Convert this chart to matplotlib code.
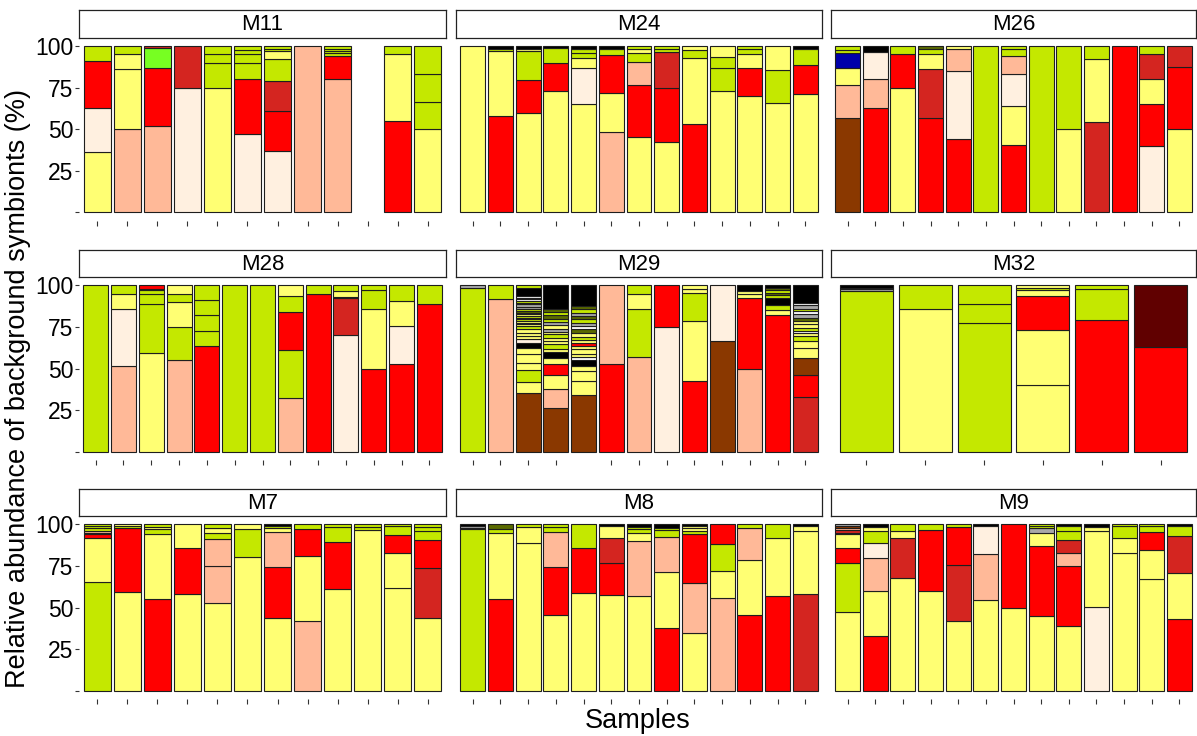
import matplotlib
matplotlib.use("Agg")
import matplotlib.pyplot as plt

plt.rcParams['font.family'] = ['Liberation Sans', 'DejaVu Sans']

# ---- colour codes -------------------------------------------------------
PAL = {
    "Y": "#FFFF73",  # pale yellow
    "G": "#C4E800",  # yellow-green
    "R": "#FF0000",  # red
    "D": "#D42520",  # dark red
    "S": "#FFB998",  # salmon
    "C": "#FFF0E0",  # cream
    "B": "#8A3800",  # brown
    "K": "#000000",  # black
    "U": "#0000AA",  # blue
    "L": "#77FF22",  # light green
    "M": "#600000",  # maroon
    "A": "#A8A8A8",  # gray
    "O": "#5A6A00",  # dark olive
    "W": "#FFFFFF",  # white
}

# ---- data: each bar = list of (colour code, % value) from bottom to top --
M11 = [
    [("Y", 36), ("C", 27), ("R", 28), ("G", 9)],
    [("S", 50), ("Y", 36), ("Y", 9), ("G", 5)],
    [("S", 52), ("R", 35), ("L", 12), ("D", 1)],
    [("C", 75), ("D", 25)],
    [("Y", 75), ("G", 15), ("G", 5), ("G", 5)],
    [("C", 47), ("R", 33), ("G", 10), ("G", 5), ("G", 2.5), ("G", 2.5)],
    [("C", 37), ("R", 24), ("D", 18), ("G", 13), ("Y", 5), ("G", 1.5), ("G", 1.5)],
    [("S", 100)],
    [("S", 80), ("R", 14), ("G", 1.5), ("G", 1.5), ("G", 1), ("G", 2)],
    [],
    [("R", 55), ("Y", 40), ("G", 5)],
    [("Y", 50), ("G", 16.5), ("G", 16.5), ("G", 17)],
]

M24 = [
    [("Y", 100)],
    [("R", 58), ("Y", 39), ("G", 1.5), ("K", 1.5)],
    [("Y", 60), ("R", 19.5), ("G", 17.5), ("Y", 1.5), ("K", 1.5)],
    [("Y", 73), ("R", 17), ("G", 9), ("K", 1)],
    [("Y", 65), ("C", 21.5), ("Y", 6.5), ("G", 3), ("G", 2.5), ("K", 1.5)],
    [("S", 48), ("Y", 24), ("R", 22.5), ("G", 3.5), ("K", 2)],
    [("Y", 45), ("R", 31.5), ("S", 14), ("G", 5), ("Y", 2.5), ("G", 2)],
    [("Y", 42), ("R", 33), ("D", 21.5), ("G", 2), ("G", 1.5)],
    [("R", 53), ("Y", 39.5), ("G", 5), ("Y", 2.5)],
    [("Y", 73), ("G", 13.5), ("G", 7), ("Y", 6.5)],
    [("Y", 70), ("R", 16.5), ("Y", 8.5), ("G", 3), ("G", 2)],
    [("Y", 65.5), ("G", 20), ("Y", 14.5)],
    [("Y", 71), ("R", 17.5), ("G", 9.5), ("K", 2)],
]

M26 = [
    [("B", 57), ("S", 19.5), ("Y", 10.5), ("U", 8.5), ("G", 2), ("G", 2.5)],
    [("R", 62.5), ("S", 17.5), ("C", 16.5), ("K", 3.5)],
    [("Y", 75), ("R", 20), ("G", 5)],
    [("R", 57), ("D", 29), ("Y", 9), ("G", 3), ("O", 2)],
    [("R", 44), ("C", 41), ("S", 13), ("Y", 2)],
    [("G", 100)],
    [("R", 40.5), ("Y", 23.5), ("C", 19), ("S", 11), ("G", 4), ("G", 2)],
    [("G", 100)],
    [("Y", 50), ("G", 50)],
    [("D", 54), ("Y", 38), ("G", 8)],
    [("R", 100)],
    [("C", 40), ("R", 25), ("Y", 15), ("D", 15), ("G", 5)],
    [("Y", 50), ("R", 37.5), ("D", 12.5)],
]

M28 = [
    [("G", 100)],
    [("S", 51.5), ("C", 34), ("Y", 9.5), ("G", 5)],
    [("Y", 59.5), ("G", 29.5), ("G", 5.5), ("G", 2.5), ("G", 1), ("R", 2)],
    [("S", 55), ("G", 20), ("Y", 15), ("G", 5), ("Y", 5)],
    [("R", 63.5), ("G", 9), ("G", 9.5), ("G", 9), ("G", 9)],
    [("G", 100)],
    [("G", 100)],
    [("S", 32), ("G", 29), ("R", 23), ("G", 9.5), ("Y", 6.5)],
    [("R", 94.5), ("G", 5.5)],
    [("C", 70), ("D", 22.5), ("K", 0.5), ("Y", 3.5), ("G", 3.5)],
    [("R", 50), ("Y", 35.5), ("G", 11.5), ("G", 3)],
    [("R", 53), ("C", 22.5), ("Y", 15), ("G", 9.5)],
    [("R", 89), ("G", 11)],
]

M29 = [
    [("G", 98.5), ("A", 1.5)],
    [("S", 91.5), ("G", 8.5)],
    [("B", 35), ("Y", 7), ("G", 7), ("Y", 4.5), ("Y", 5), ("Y", 4), ("K", 3),
     ("C", 2), ("Y", 2), ("Y", 2), ("Y", 2), ("G", 2), ("Y", 1), ("G", 1),
     ("Y", 1), ("G", 1), ("Y", 1), ("G", 1), ("Y", 1), ("G", 1), ("O", 1),
     ("G", 1), ("A", 1.5), ("A", 1.5), ("Y", 1), ("G", 1), ("W", 1), ("A", 1),
     ("W", 1), ("K", 5), ("G", 1.5)],
    [("B", 26.5), ("S", 11), ("Y", 8.5), ("R", 6.5), ("Y", 4), ("K", 3.5),
     ("Y", 2), ("G", 2.5), ("Y", 2), ("Y", 2), ("G", 2), ("Y", 1.5), ("A", 2),
     ("Y", 2), ("A", 2), ("G", 2), ("O", 2), ("G", 2), ("O", 2), ("K", 14)],
    [("B", 34), ("Y", 8.5), ("Y", 6), ("Y", 3), ("K", 3.5), ("W", 2), ("Y", 2),
     ("Y", 2.5), ("Y", 2), ("R", 2), ("Y", 1.5), ("G", 2), ("Y", 2.5), ("O", 2),
     ("W", 2), ("A", 2), ("G", 2), ("O", 2), ("A", 2), ("G", 2), ("O", 2),
     ("K", 12.5)],
    [("R", 52.5), ("S", 47.5)],
    [("S", 57), ("G", 28.5), ("Y", 9.5), ("G", 5)],
    [("C", 75), ("R", 25)],
    [("R", 42.5), ("Y", 36), ("G", 17), ("Y", 2), ("Y", 2.5)],
    [("B", 66.5), ("C", 33.5)],
    [("S", 49.5), ("R", 43), ("Y", 2), ("Y", 2), ("K", 3.5)],
    [("R", 82), ("Y", 3), ("G", 3), ("K", 4.5), ("G", 1.5), ("O", 1.5),
     ("G", 1.5), ("O", 1.5), ("K", 1.5)],
    [("D", 33), ("R", 13), ("B", 10.5), ("Y", 6), ("Y", 4), ("G", 3), ("Y", 2),
     ("W", 1), ("G", 2), ("Y", 2), ("Y", 2), ("O", 2), ("A", 2), ("W", 2),
     ("G", 1), ("A", 2.5), ("W", 1.5), ("K", 10.5)],
]
M29_hidden_ticks = [5]

M32 = [
    [("G", 96.5), ("A", 1), ("O", 1), ("K", 1.5)],
    [("Y", 85.5), ("G", 14.5)],
    [("G", 77.5), ("G", 11.5), ("G", 11)],
    [("Y", 40), ("Y", 33), ("R", 20.5), ("Y", 3.5), ("G", 1.5), ("Y", 1.5)],
    [("R", 79), ("G", 19), ("G", 2)],
    [("R", 63), ("M", 37)],
]

M7 = [
    [("G", 65.5), ("Y", 26.5), ("R", 2), ("C", 1), ("S", 1), ("G", 1.5), ("G", 1.5), ("G", 1)],
    [("Y", 59.5), ("R", 38), ("G", 1.5), ("Y", 1)],
    [("R", 55), ("Y", 39), ("G", 3), ("Y", 1.5), ("G", 1.5)],
    [("Y", 58), ("R", 27.5), ("Y", 14.5)],
    [("Y", 52.5), ("S", 22.5), ("S", 16), ("G", 3.5), ("Y", 3.5), ("G", 2)],
    [("Y", 80.5), ("G", 16.5), ("Y", 3)],
    [("Y", 43.5), ("R", 31), ("S", 21), ("Y", 2), ("G", 1.5), ("K", 1)],
    [("S", 42), ("Y", 39), ("R", 16), ("G", 3)],
    [("Y", 61), ("R", 28.5), ("G", 9), ("G", 1.5)],
    [("Y", 96.5), ("G", 2), ("G", 1.5)],
    [("Y", 62), ("Y", 20.5), ("R", 11), ("G", 5.5), ("G", 1)],
    [("Y", 44), ("D", 29.5), ("R", 17), ("G", 5.5), ("G", 2.5), ("G", 1.5)],
]

M8 = [
    [("G", 97), ("S", 1), ("A", 1), ("K", 1)],
    [("R", 55), ("Y", 39.5), ("G", 2.5), ("O", 3)],
    [("Y", 88.5), ("Y", 10), ("G", 1.5)],
    [("Y", 45.5), ("R", 29), ("S", 21), ("G", 3), ("G", 1.5)],
    [("Y", 59), ("R", 27), ("G", 14)],
    [("Y", 57.5), ("R", 19), ("D", 15.5), ("Y", 7), ("K", 1)],
    [("Y", 57), ("S", 33), ("Y", 4.5), ("G", 2.5), ("G", 1.5), ("K", 1.5)],
    [("R", 38), ("Y", 33.5), ("S", 21), ("G", 4), ("G", 1.5), ("K", 2)],
    [("Y", 34.5), ("S", 30.5), ("R", 29), ("G", 2), ("Y", 2), ("Y", 1), ("K", 1)],
    [("S", 55.5), ("Y", 16.5), ("G", 16), ("R", 12)],
    [("R", 45.5), ("Y", 33), ("S", 19.5), ("G", 2)],
    [("R", 57), ("Y", 34.5), ("G", 8.5)],
    [("D", 58), ("Y", 38), ("Y", 3), ("K", 1)],
]

M9 = [
    [("Y", 47.5), ("G", 29.5), ("R", 8.5), ("Y", 8.5), ("C", 1), ("D", 1.5),
     ("S", 1), ("B", 1.5), ("A", 1)],
    [("R", 33), ("Y", 27), ("S", 19.5), ("C", 9), ("G", 7.5), ("Y", 2.5), ("K", 1.5)],
    [("Y", 67.5), ("D", 24), ("Y", 4.5), ("G", 4)],
    [("Y", 60), ("R", 36.5), ("G", 3.5)],
    [("Y", 42), ("D", 33.5), ("R", 23), ("G", 1.5)],
    [("Y", 54.5), ("S", 27.5), ("C", 17), ("K", 1)],
    [("Y", 49.5), ("R", 50.5)],
    [("Y", 45), ("R", 42), ("Y", 8), ("A", 2.5), ("G", 1.5), ("G", 1)],
    [("Y", 39), ("R", 36), ("S", 8), ("D", 7.5), ("G", 5.5), ("G", 3), ("K", 1)],
    [("C", 50.5), ("Y", 45.5), ("Y", 2.5), ("K", 1.5)],
    [("Y", 82.5), ("Y", 9.5), ("G", 7), ("G", 1)],
    [("Y", 67), ("Y", 17.5), ("R", 11), ("G", 3.5), ("G", 1)],
    [("R", 43), ("Y", 27.5), ("D", 22.5), ("G", 6), ("K", 1)],
]

panel_names = ["M11", "M24", "M26", "M28", "M29", "M32", "M7", "M8", "M9"]
panel_data = [M11, M24, M26, M28, M29, M32, M7, M8, M9]
hidden_ticks = {"M29": M29_hidden_ticks}

y_ticks = [0, 25, 50, 75, 100]
y_ticklabels = ["", "25", "50", "75", "100"]

# ---- layout (pixels) ------------------------------------------------------
W, H = 1197, 736
fig = plt.figure(figsize=(W / 100, H / 100), dpi=100)

def rect(l, t, r, b):
    return [l / W, 1 - b / H, (r - l) / W, (b - t) / H]

cols = [(79, 446), (456, 822), (831, 1196)]
rows = [(37.7, 220.6), (277, 460), (516, 699.3)]
strips = [(10, 37.7), (250, 277), (489, 516)]

EDGE = "#1E1E1E"
TICKC = "#333333"

for idx, (name, bars) in enumerate(zip(panel_names, panel_data)):
    r, c = divmod(idx, 3)
    l, rr = cols[c]
    t, b = rows[r]
    ax = fig.add_axes(rect(l, t, rr, b))
    for i, bar in enumerate(bars):
        x = i + 1
        total = sum(v for _, v in bar)
        bottom = 0.0
        for code, v in bar:
            h = v / total * 100
            ax.bar(x, h, bottom=bottom, width=0.9, color=PAL[code],
                   edgecolor=EDGE, linewidth=0.8)
            bottom += h
    n = len(bars)
    ax.set_xlim(0.4, n + 0.6)
    ax.set_ylim(-5, 105)
    for s in ax.spines.values():
        s.set_visible(False)
    ticks = [k for k in range(1, n + 1) if k not in hidden_ticks.get(name, [])]
    ax.set_xticks(ticks)
    ax.set_xticklabels([])
    ax.tick_params(axis="x", length=3.8, width=0.8, color=TICKC)
    ax.set_yticks(y_ticks)
    if c == 0:
        ax.set_yticklabels(y_ticklabels, fontsize=16.5, color="black")
        ax.tick_params(axis="y", length=3, width=0.8, color=TICKC, pad=1)
    else:
        ax.set_yticklabels([])
        ax.tick_params(axis="y", length=0)
    ax.set_facecolor("white")

    st, sb = strips[r]
    sax = fig.add_axes(rect(l, st, rr, sb))
    sax.set_xticks([])
    sax.set_yticks([])
    for s in sax.spines.values():
        s.set_edgecolor("#222222")
        s.set_linewidth(0.9)
    sax.set_facecolor("white")
    sax.text(0.5, 0.48, name, ha="center", va="center", fontsize=16,
             transform=sax.transAxes)

fig.text(18 / W, 1 - 389 / H, "Relative abundance of background symbionts (%)",
         rotation=90, ha="center", va="center", fontsize=19.5)
fig.text(638 / W, 1 - 721 / H, "Samples", ha="center", va="center", fontsize=19.5)

fig.savefig("out.png", dpi=100, facecolor="white")
